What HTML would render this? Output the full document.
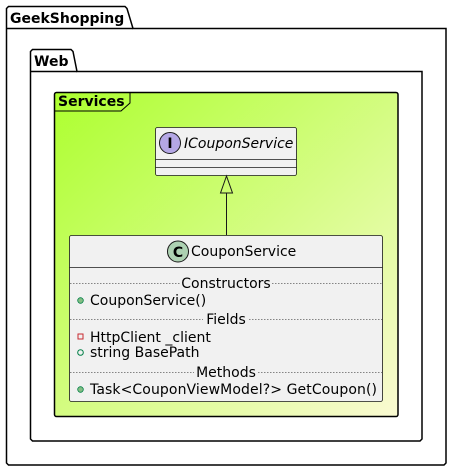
<!DOCTYPE html>
<html><head><meta charset="utf-8"><style>body{margin:0;background:#fff}svg{display:block}</style></head><body>
<svg width="452" height="471" viewBox="0 0 452 471" xmlns="http://www.w3.org/2000/svg" font-family="DejaVu Sans, sans-serif">
<defs><linearGradient id="g" x1="0" y1="0" x2="1" y2="1"><stop offset="0" stop-color="#adff2f"/><stop offset="1" stop-color="#fafad2"/></linearGradient></defs>
<path d="M8.5,6.5 L125,6.5 L127,8.5 L133,28.5 L446,28.5 L446,463 L444,465 L8.5,465 L6.5,463 L6.5,8.5 Z" fill="#fff" stroke="#000" stroke-width="1.5"/>
<line x1="6.5" y1="28.5" x2="133" y2="28.5" stroke="#000" stroke-width="1.5"/>
<text x="10" y="23" font-size="14" font-weight="bold">GeekShopping</text>
<path d="M32.5,49.5 L71,49.5 L73,51.5 L77,71.5 L422,71.5 L422,439 L420,441 L32.5,441 L30.5,439 L30.5,51.5 Z" fill="#fff" stroke="#000" stroke-width="1.5"/>
<line x1="30.5" y1="71.5" x2="77" y2="71.5" stroke="#000" stroke-width="1.5"/>
<text x="34" y="66" font-size="14" font-weight="bold">Web</text>
<rect x="54.5" y="92.5" width="343.5" height="324" rx="2" fill="url(#g)" stroke="#000" stroke-width="1.5"/>
<path d="M54.5,111 L121,111 L130,103 L130,92.5" fill="none" stroke="#000" stroke-width="1"/>
<text x="58" y="106" font-size="14" font-weight="bold">Services</text>
<rect x="155.5" y="127.5" width="141" height="48" rx="2" fill="#f1f1f1" stroke="#181818" stroke-width="0.8"/>
<line x1="155.5" y1="159.5" x2="296.5" y2="159.5" stroke="#181818" stroke-width="0.8"/>
<line x1="155.5" y1="167.5" x2="296.5" y2="167.5" stroke="#181818" stroke-width="0.8"/>
<circle cx="170" cy="143" r="10.5" fill="#b4a7e5" stroke="#181818" stroke-width="1"/>
<text x="170" y="148" font-size="14" font-weight="bold" text-anchor="middle">I</text>
<text x="184" y="148" font-size="14" font-style="italic">ICouponService</text>
<line x1="226.5" y1="193" x2="226.5" y2="235" stroke="#181818" stroke-width="1"/>
<path d="M226.5,176 L220.5,193 L232.5,193 Z" fill="none" stroke="#181818" stroke-width="1"/>
<rect x="69.5" y="235.5" width="313" height="166" rx="2" fill="#f1f1f1" stroke="#181818" stroke-width="0.8"/>
<line x1="69.5" y1="267.5" x2="382.5" y2="267.5" stroke="#181818" stroke-width="0.8"/>
<circle cx="178" cy="251.5" r="10.5" fill="#add1b2" stroke="#181818" stroke-width="1"/>
<text x="178" y="257" font-size="14" font-weight="bold" text-anchor="middle">C</text>
<text x="191" y="256" font-size="14">CouponService</text>
<g stroke="#181818" stroke-width="0.6" stroke-dasharray="1.5,1.5">
<line x1="70" y1="283.5" x2="180" y2="283.5"/><line x1="272" y1="283.5" x2="382" y2="283.5"/>
<line x1="70" y1="319.5" x2="203" y2="319.5"/><line x1="249" y1="319.5" x2="382" y2="319.5"/>
<line x1="70" y1="372.5" x2="194" y2="372.5"/><line x1="258" y1="372.5" x2="382" y2="372.5"/>
</g>
<g font-size="14">
<text x="226" y="288" text-anchor="middle">Constructors</text>
<text x="226" y="324" text-anchor="middle">Fields</text>
<text x="226" y="377" text-anchor="middle">Methods</text>
<text x="90" y="305">CouponService()</text>
<text x="90" y="342">HttpClient _client</text>
<text x="90" y="357">string BasePath</text>
<text x="90" y="394" textLength="287">Task&lt;CouponViewModel?&gt; GetCoupon()</text>
</g>
<circle cx="80.5" cy="300.5" r="2.8" fill="#84be84" stroke="#038048" stroke-width="0.8"/>
<rect x="78" y="334" width="5" height="5" fill="none" stroke="#c82930" stroke-width="1"/>
<circle cx="80.5" cy="352.5" r="2.8" fill="none" stroke="#038048" stroke-width="1"/>
<circle cx="80.5" cy="389.5" r="2.8" fill="#84be84" stroke="#038048" stroke-width="0.8"/>
</svg>
</body></html>
